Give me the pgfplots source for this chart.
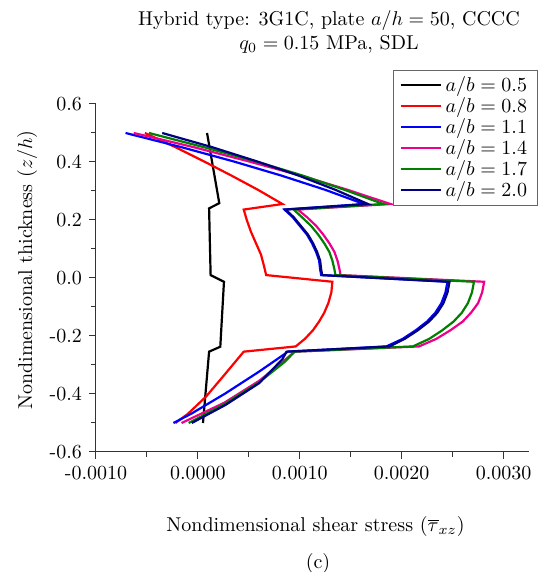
\documentclass[border=0pt]{standalone}
\usepackage{pgfplots}
\pgfplotsset{compat=1.18}
\definecolor{dgreen}{RGB}{0,128,0}
\definecolor{navy}{RGB}{0,0,128}
\begin{document}
\begin{tikzpicture}
\begin{axis}[
 scale only axis, width=216.5pt, height=174pt,
 xmin=-0.001, xmax=0.00325, ymin=-0.6, ymax=0.6,
 axis lines=left, axis line style={-, black!80, line width=0.5pt},
 xtick={-0.001,0,0.001,0.002,0.003},
 xticklabels={-0.0010,0.0000,0.0010,0.0020,0.0030},
 minor xtick={-0.0005,0.0005,0.0015,0.0025},
 ytick={-0.6,-0.4,-0.2,0,0.2,0.4,0.6},
 yticklabels={-0.6,-0.4,-0.2,0.0,0.2,0.4,0.6},
 minor ytick={-0.5,-0.3,-0.1,0.1,0.3,0.5},
 tick align=outside, major tick length=3.5pt, minor tick length=2.5pt,
 tick style={black!80, line width=0.5pt},
 scaled x ticks=false,
 xlabel={Nondimensional shear stress ($\overline{\tau}_{xz}$)},
 ylabel={Nondimensional thickness ($z/h$)},
 xlabel style={at={(axis description cs:0.507,-0.2155)}, anchor=center},
 ylabel style={at={(axis description cs:-0.159,0.523)}, anchor=center},
 title={Hybrid type: 3G1C, plate $a/h=50$, CCCC\\$q_0=0.15$ MPa, SDL},
 title style={align=center, at={(axis description cs:0.538,1.172)}, anchor=center},
 legend style={at={(axis description cs:0.686,1.098)}, anchor=north west, draw=black!60, inner xsep=3pt, inner ysep=1pt, row sep=-2.5pt},
 legend cell align=left,
 legend image code/.code={\draw[#1, line width=1.1pt] (0pt,0pt) -- (20pt,0pt);},
]
\addplot[black, line width=1.1pt] coordinates {(0.00009,0.5) (0.00021,0.258) (0.00011,0.24) (0.000125,0.01) (0.000256,-0.013) (0.00022,-0.237) (0.00011,-0.254) (0.00005,-0.5)};
\addlegendentry{$a/b=0.5$}
\addplot[red, line width=1.1pt] coordinates {(-0.00052,0.5) (-0.00022,0.451) (0.00006,0.402) (0.00033,0.353) (0.00059,0.304) (0.00083,0.255) (0.00045,0.236) (0.00048,0.2) (0.00052,0.16) (0.00057,0.12) (0.00062,0.08) (0.00065,0.04) (0.00067,0.01) (0.00132,-0.013) (0.00131,-0.05) (0.00128,-0.087) (0.00124,-0.12) (0.00119,-0.15) (0.00113,-0.18) (0.00105,-0.21) (0.00096,-0.236) (0.00045,-0.254) (0.00027,-0.33) (0.00008,-0.409) (-0.0001,-0.469) (-0.00022,-0.5)};
\addlegendentry{$a/b=0.8$}
\addplot[blue, line width=1.1pt] coordinates {(-0.00071,0.5) (-0.00016,0.451) (0.00035,0.402) (0.00082,0.353) (0.00125,0.304) (0.00163,0.255) (0.00085,0.236) (0.00093,0.21) (0.001,0.18) (0.00107,0.15) (0.00112,0.12) (0.00116,0.09) (0.00119,0.06) (0.0012,0.03) (0.00121,0.01) (0.00245,-0.013) (0.00243,-0.05) (0.00239,-0.087) (0.00233,-0.12) (0.00225,-0.15) (0.00214,-0.18) (0.00201,-0.21) (0.00185,-0.236) (0.00088,-0.254) (0.00086,-0.26) (0.0006,-0.323) (0.00027,-0.398) (-0.00006,-0.467) (-0.00024,-0.5)};
\addlegendentry{$a/b=1.1$}
\addplot[magenta, line width=1.1pt] coordinates {(-0.00063,0.5) (-0.00004,0.451) (0.0005,0.402) (0.00101,0.353) (0.00147,0.304) (0.00189,0.255) (0.00098,0.236) (0.00107,0.21) (0.00116,0.18) (0.00123,0.15) (0.00129,0.12) (0.00134,0.09) (0.00137,0.06) (0.00139,0.03) (0.0014,0.01) (0.00281,-0.013) (0.00279,-0.05) (0.00275,-0.087) (0.00268,-0.12) (0.0026,-0.15) (0.00248,-0.18) (0.00234,-0.21) (0.00217,-0.236) (0.00095,-0.254) (0.00083,-0.29) (0.0006,-0.355) (0.00026,-0.43) (-0.00016,-0.5)};
\addlegendentry{$a/b=1.4$}
\addplot[dgreen, line width=1.1pt] coordinates {(-0.00048,0.5) (0.00006,0.451) (0.00057,0.402) (0.00103,0.353) (0.00144,0.304) (0.00182,0.255) (0.00094,0.236) (0.00102,0.21) (0.00111,0.18) (0.00118,0.15) (0.00124,0.12) (0.00129,0.09) (0.00132,0.06) (0.00134,0.03) (0.00135,0.01) (0.00271,-0.013) (0.00269,-0.05) (0.00265,-0.087) (0.00259,-0.12) (0.00251,-0.15) (0.0024,-0.18) (0.00227,-0.21) (0.00211,-0.236) (0.00095,-0.254) (0.00085,-0.29) (0.0006,-0.36) (0.00026,-0.435) (-0.00009,-0.5)};
\addlegendentry{$a/b=1.7$}
\addplot[navy, line width=1.1pt] coordinates {(-0.00035,0.5) (0.00014,0.451) (0.00058,0.402) (0.00099,0.353) (0.00135,0.304) (0.00167,0.255) (0.00086,0.236) (0.00094,0.21) (0.00101,0.18) (0.00108,0.15) (0.00113,0.12) (0.00117,0.09) (0.0012,0.06) (0.00121,0.03) (0.00122,0.01) (0.00247,-0.013) (0.00245,-0.05) (0.00241,-0.087) (0.00235,-0.12) (0.00227,-0.15) (0.00216,-0.18) (0.00203,-0.21) (0.00188,-0.236) (0.00087,-0.254) (0.00083,-0.28) (0.0006,-0.363) (0.00027,-0.438) (-0.00006,-0.5)};
\addlegendentry{$a/b=2.0$}
\end{axis}
\node at (111pt,-55.5pt) {(c)};
\pgfresetboundingbox
\useasboundingbox (-48pt,-60pt) rectangle (231pt,226pt);
\end{tikzpicture}
\end{document}
